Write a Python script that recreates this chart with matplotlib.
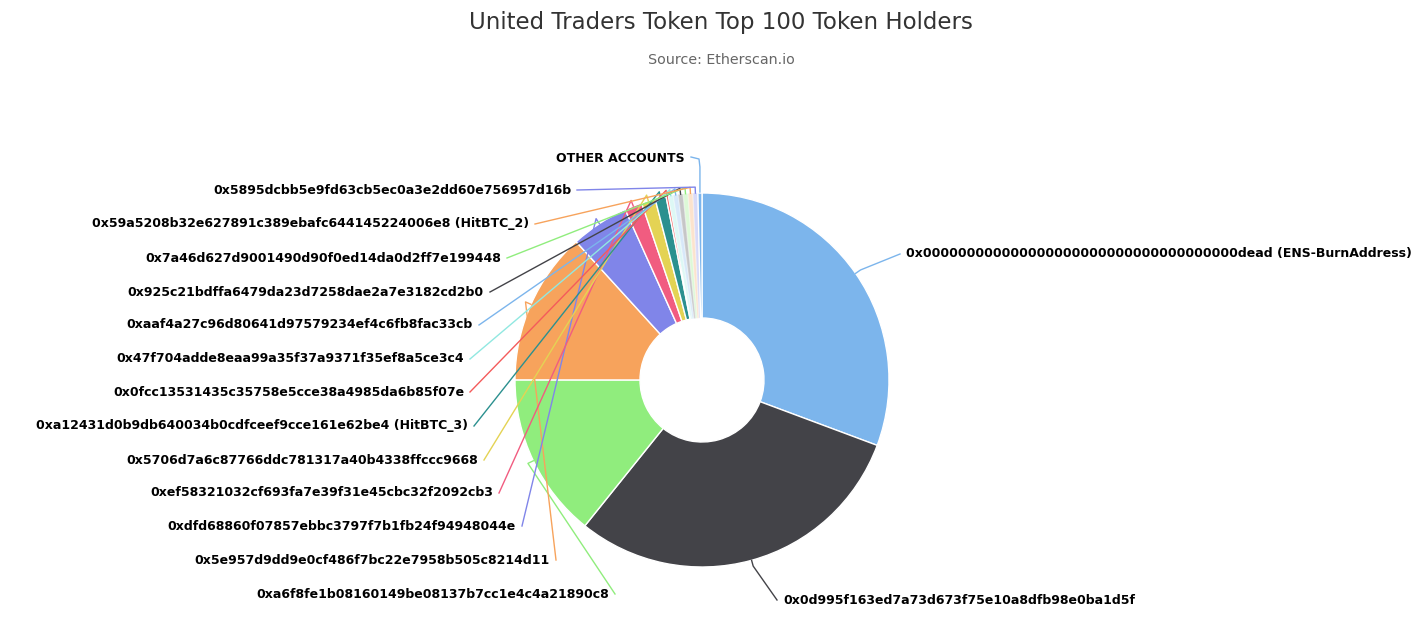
import numpy as np
import matplotlib.pyplot as plt

# holders, clockwise from the top
holders = ['0x000000000000000000000000000000000000dead (ENS-BurnAddress)',
           '0x0d995f163ed7a73d673f75e10a8dfb98e0ba1d5f',
           '0xa6f8fe1b08160149be08137b7cc1e4c4a21890c8',
           '0x5e957d9dd9e0cf486f7bc22e7958b505c8214d11',
           '0xdfd68860f07857ebbc3797f7b1fb24f94948044e',
           '0xef58321032cf693fa7e39f31e45cbc32f2092cb3',
           '0x5706d7a6c87766ddc781317a40b4338ffccc9668',
           '0xa12431d0b9db640034b0cdfceef9cce161e62be4 (HitBTC_3)',
           '0x0fcc13531435c35758e5cce38a4985da6b85f07e',
           '0x47f704adde8eaa99a35f37a9371f35ef8a5ce3c4',
           '0xaaf4a27c96d80641d97579234ef4c6fb8fac33cb',
           '0x925c21bdffa6479da23d7258dae2a7e3182cd2b0',
           '0x7a46d627d9001490d90f0ed14da0d2ff7e199448',
           '0x59a5208b32e627891c389ebafc644145224006e8 (HitBTC_2)',
           '0x5895dcbb5e9fd63cb5ec0a3e2dd60e756957d16b',
           'OTHER ACCOUNTS']
share = [30.6, 30.0, 14.2, 13.2, 5.0, 1.5, 1.2, 0.95,
         0.2, 0.42, 0.42, 0.42, 0.42, 0.42, 0.42, 0.35]

colors = ['#7cb5ec', '#434348', '#90ed7d', '#f7a35c', '#8085e9',
          '#f15c80', '#e4d354', '#2b908f', '#f45b5b', '#91e8e1',
          '#7cb5ec', '#434348', '#90ed7d', '#f7a35c', '#8085e9', '#7cb5ec']

W, H = 1427, 641
cx, cy = 702, H - 380
R, r_in = 187, 62

# label positions in pixels (x = start or end of text, y from top)
lab_x = [906, 783, 609, 550, 516, 493, 478, 468, 464, 464, 473, 484, 501, 529, 571, 685]
lab_y = [254, 600, 594, 560, 526, 493, 460, 426, 392, 359, 325, 292, 258, 224, 190, 159]

fig = plt.figure(figsize=(W / 100, H / 100), dpi=100)
ax = fig.add_axes([0, 0, 1, 1])

wedges, _ = ax.pie(share, colors=colors, startangle=90, counterclock=False,
                   radius=R, center=(cx, cy),
                   wedgeprops=dict(width=R - r_in, edgecolor='white', linewidth=1))
for w in wedges[9:15]:
    w.set_alpha(0.3)

ax.set_xlim(0, W)
ax.set_ylim(0, H)
ax.set_aspect('equal')
ax.axis('off')

for i, w in enumerate(wedges):
    mid = np.deg2rad((w.theta1 + w.theta2) / 2)
    ex, ey = cx + R * np.cos(mid), cy + R * np.sin(mid)
    ox, oy = cx + (R + 6) * np.cos(mid), cy + (R + 6) * np.sin(mid)
    ly = H - lab_y[i]
    right = i < 2
    if right:
        ax_ = lab_x[i] - 6
        ax.text(lab_x[i], ly, holders[i], ha='left', va='center',
                fontsize=9, fontweight='bold', color='black')
    else:
        ax_ = lab_x[i] + 6
        ax.text(lab_x[i], ly, holders[i], ha='right', va='center',
                fontsize=9, fontweight='bold', color='black')
    if i == 15:
        ax.plot([ax_, ax_ + 8, ex, ex], [ly + 2, ly, ly - 8, ey + 1],
                color=colors[i], lw=1)
    else:
        ax.plot([ax_, ox, ex], [ly, oy, ey], color=colors[i], lw=1)

fig.text(721 / W, 1 - 22 / H, 'United Traders Token Top 100 Token Holders',
         ha='center', va='center', fontsize=16.5, color='#333333')
fig.text(721 / W, 1 - 60 / H, 'Source: Etherscan.io',
         ha='center', va='center', fontsize=10.3, color='#666666')

fig.savefig('out.png', dpi=100, facecolor='white')
